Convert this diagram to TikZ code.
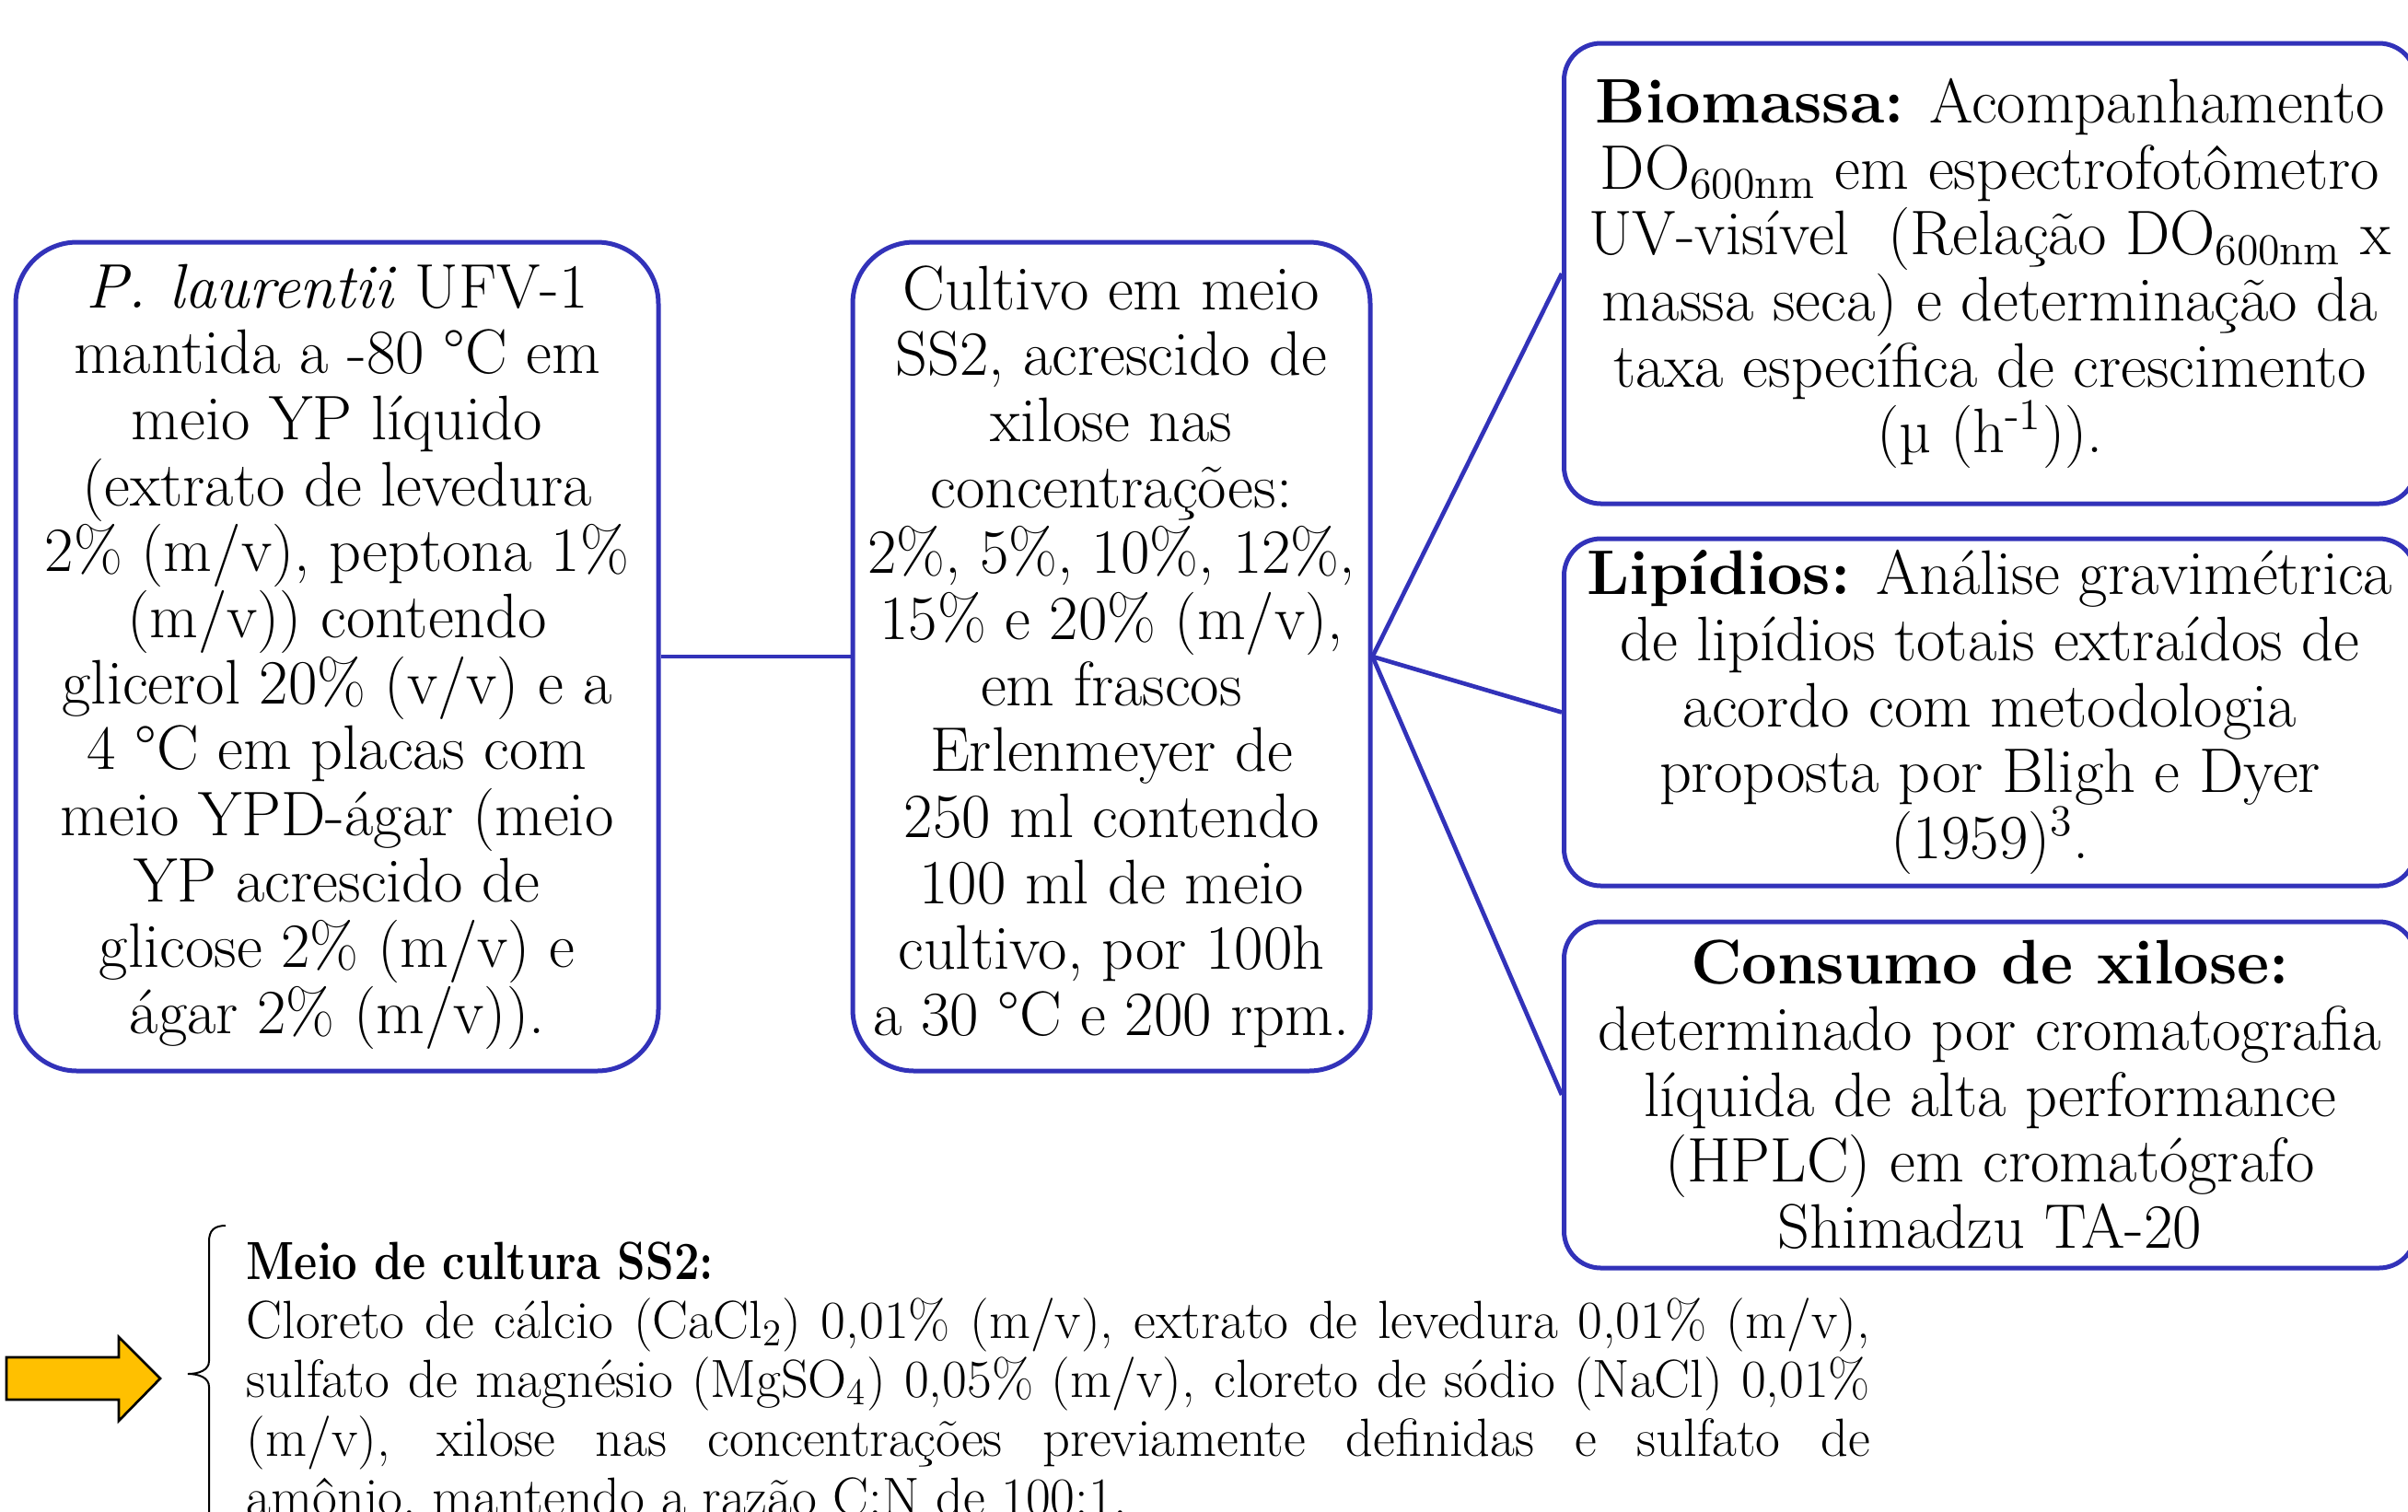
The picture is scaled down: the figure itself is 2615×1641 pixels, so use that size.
\documentclass[tikz,border=0pt]{standalone}
\usepackage{fontspec}
\usepackage{graphicx}
\definecolor{boxblue}{RGB}{50,50,185}
\definecolor{arrowyellow}{RGB}{255,192,0}
\newcommand{\boxtextfont}{\fontsize{20.5}{21.5}\selectfont\lineskiplimit-60pt\relax}
\tikzset{
  basebox/.style={draw=boxblue, line width=1.5pt, align=center, inner sep=1pt,
    font={\boxtextfont}},
  bigbox/.style={basebox, rounded corners=20pt, minimum height=270pt},
  sidebox/.style={basebox, rounded corners=12pt, minimum width=277.5pt},
  link/.style={draw=boxblue, line width=1.4pt},
  bracestyle/.style={draw=black, line width=0.6pt},
  fatarrow/.style={draw=black, line width=0.8pt, fill=arrowyellow, line join=miter}
}
\begin{document}
\begin{tikzpicture}[x=0.3pt, y=-0.3pt]
\useasboundingbox (0,0) rectangle (2615,1641);
\clip (0,0) rectangle (2615,1641);

\node[bigbox, minimum width=209.4pt] (strain) at (366,713)
  {\textit{P. laurentii} UFV-1\\ mantida a -80 °C em\\ meio YP líquido\\ (extrato de levedura\\ 2\% (m/v), peptona 1\%\\ (m/v)) contendo\\ glicerol 20\% (v/v) e a\\ 4 °C em placas com\\ meio YPD-ágar (meio\\ YP acrescido de\\ glicose 2\% (m/v) e\\ ágar 2\% (m/v)).};

\node[bigbox, minimum width=168.6pt] (cult) at (1207,713)
  {Cultivo em meio\\ SS2, acrescido de\\ xilose nas\\ concentrações:\\ 2\%, 5\%, 10\%, 12\%,\\ 15\% e 20\% (m/v),\\ em frascos\\ Erlenmeyer de\\ 250 ml contendo\\ 100 ml de meio\\ cultivo, por 100h\\ a 30 °C e 200 rpm.};

\node[sidebox, minimum height=150pt] (bio) at (2161,297)
  {\textbf{Biomassa:} Acompanhamento\\ DO\textsubscript{600nm} em espectrofotômetro\\ UV-visível\ \ (Relação DO\textsubscript{600nm} x\\ massa seca) e determinação da\\ taxa específica de crescimento\\ (µ (h\textsuperscript{-1})).};

\node[sidebox, minimum height=113.1pt] (lip) at (2161,773.5)
  {\textbf{Lipídios:} Análise gravimétrica\\ de lipídios totais extraídos de\\ acordo com metodologia\\ proposta por Bligh e Dyer\\ (1959)\textsuperscript{3}.};

\node[sidebox, minimum height=112.8pt] (xil) at (2161,1189)
  {\textbf{Consumo de xilose:}\\ determinado por cromatografia\\ líquida de alta performance\\ (HPLC) em cromatógrafo\\ Shimadzu TA-20};

\draw[link] (strain.east) -- (cult.west);
\draw[link] (cult.east) -- (bio.west);
\draw[link] (cult.east) -- (lip.west);
\draw[link] (cult.east) -- (xil.west);

\draw[fatarrow] (7,1474) -- (129,1474) -- (129,1452) -- (174,1497) -- (129,1543) -- (129,1520) -- (7,1520) -- cycle;

\draw[bracestyle] (245,1331) .. controls (233,1331) and (227,1336) .. (227,1348)
  -- (227,1478) .. controls (227,1488) and (216,1492) .. (204,1492)
  .. controls (216,1492) and (227,1496) .. (227,1506) -- (227,1720);

\node[anchor=base west, inner sep=0] (ss2) at (267,1389)
  {\parbox[t]{529pt}{\fontsize{17.5}{19.2}\selectfont\lineskiplimit-60pt\relax
  \scalebox{0.84}[1]{\textbf{Meio de cultura SS2:}}\par
  \hbox to\linewidth{Cloreto de cálcio (CaCl\textsubscript{2}) 0,01\% (m/v), extrato de levedura 0,01\% (m/v),}
  \hbox to\linewidth{sulfato de magnésio (MgSO\textsubscript{4}) 0,05\% (m/v), cloreto de sódio (NaCl) 0,01\%}
  \hbox to\linewidth{(m/v), xilose nas concentrações previamente definidas e sulfato de}
  amônio, mantendo a razão C:N de 100:1.}};
\end{tikzpicture}
\end{document}
